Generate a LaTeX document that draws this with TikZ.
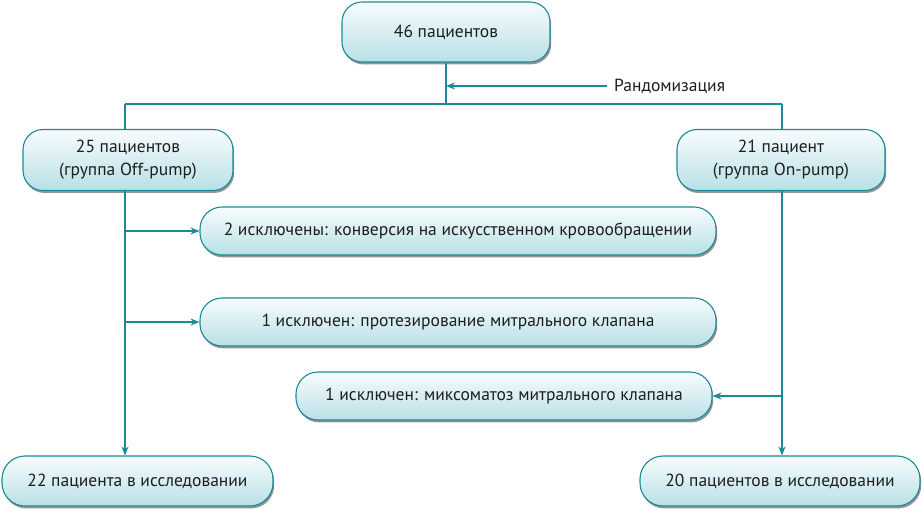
\documentclass[tikz,border=0pt]{standalone}
\usepackage{fontspec}
\setmainfont{PT Sans}
\usetikzlibrary{arrows.meta,shadows}
\definecolor{teal1}{HTML}{1B8A95}
\definecolor{boxtop}{HTML}{F7FCFD}
\definecolor{boxbot}{HTML}{B8E0E6}
\definecolor{txt}{HTML}{1E1E1E}
\tikzset{
  flowbox/.style={draw=teal1, line width=1.1pt, rounded corners=20pt,
    top color=boxtop, bottom color=boxbot, text=txt, align=center,
    font=\fontsize{17.5}{23}\selectfont, inner sep=0pt,
    drop shadow={shadow xshift=1.2pt, shadow yshift=-2.4pt, opacity=0.6, fill=black!70}},
  conn/.style={draw=teal1, line width=1.1pt},
  arr/.style={conn, -{Stealth[length=9pt,width=7pt]}}
}
\begin{document}
\begin{tikzpicture}[x=1pt,y=-1pt]
\useasboundingbox (0,0) rectangle (923,509);
\node[flowbox, minimum width=208pt, minimum height=60pt] (top) at (446,32) {46 пациентов};
\node[flowbox, minimum width=210pt, minimum height=61pt] (left) at (128,160) {25 пациентов\\(группа Off-pump)};
\node[flowbox, minimum width=208pt, minimum height=61pt] (right) at (781,160) {21 пациент\\(группа On-pump)};
\node[flowbox, minimum width=516pt, minimum height=48pt, rounded corners=22pt] (ex1) at (458,231) {2 исключены: конверсия на искусственном кровообращении};
\node[flowbox, minimum width=516pt, minimum height=48pt, rounded corners=22pt] (ex2) at (458,322) {1 исключен: протезирование митрального клапана};
\node[flowbox, minimum width=416pt, minimum height=48pt, rounded corners=22pt] (ex3) at (504,396) {1 исключен: миксоматоз митрального клапана};
\node[flowbox, minimum width=271pt, minimum height=50pt, rounded corners=23pt] (bl) at (137.5,481) {22 пациента в исследовании};
\node[flowbox, minimum width=280pt, minimum height=50pt, rounded corners=23pt] (br) at (780,481) {20 пациентов в исследовании};
\node[text=txt, font=\fontsize{17.5}{21}\selectfont, anchor=west, inner sep=0pt] (rand) at (614,86) {Рандомизация};

\coordinate (sp) at (446,104);
\coordinate (lt) at (125,104);
\coordinate (rt) at (782,104);
\coordinate (rs) at (607,86);
\coordinate (rj) at (446,86);
\coordinate (l1) at (125,231);
\coordinate (l2) at (125,322);
\coordinate (r3) at (782,396);

\draw[conn] (top.south) -- (sp);
\draw[conn] (lt) -- (rt);
\draw[arr] (rs) -- (rj);
\draw[conn] (lt) -- (lt |- left.north);
\draw[conn] (rt) -- (rt |- right.north);
\draw[arr] (lt |- left.south) -- (lt |- bl.north);
\draw[arr] (rt |- right.south) -- (rt |- br.north);
\draw[arr] (l1) -- (ex1.west);
\draw[arr] (l2) -- (ex2.west);
\draw[arr] (r3) -- (ex3.east);
\end{tikzpicture}
\end{document}
